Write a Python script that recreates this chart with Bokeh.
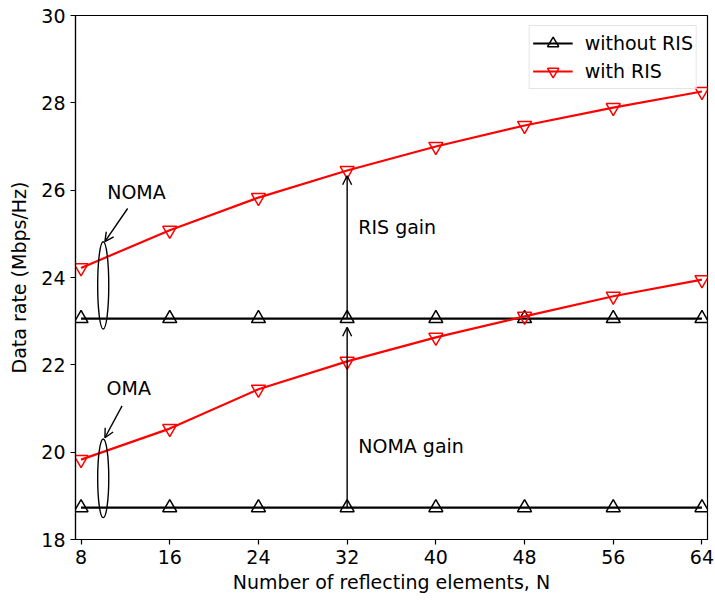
from bokeh.plotting import figure
from bokeh.models import (Arrow, OpenHead, Label, Legend, LegendItem, Range1d,
                          FixedTicker)
from bokeh.embed import file_html
from bokeh.resources import INLINE

# Number of reflecting elements
N = [8, 16, 24, 32, 40, 48, 56, 64]

# Data rate (Mbps/Hz)
noma_without_ris = [23.06, 23.06, 23.06, 23.06, 23.06, 23.06, 23.06, 23.06]
noma_with_ris = [24.22, 25.08, 25.83, 26.45, 27.00, 27.48, 27.89, 28.26]
oma_without_ris = [18.73, 18.73, 18.73, 18.73, 18.73, 18.73, 18.73, 18.73]
oma_with_ris = [19.83, 20.54, 21.44, 22.08, 22.63, 23.11, 23.57, 23.95]

x_ticks = [8, 16, 24, 32, 40, 48, 56, 64]
y_ticks = [18, 20, 22, 24, 26, 28, 30]

FONT = "DejaVu Sans"
FS = "19px"

p = figure(width=715, height=601, output_backend="svg", toolbar_location=None,
           x_range=Range1d(7.5, 64.5), y_range=Range1d(18, 30),
           min_border_left=75, min_border_right=8, min_border_top=15,
           min_border_bottom=62)
p.grid.visible = False
p.outline_line_color = "black"
p.outline_line_width = 1.2
p.background_fill_color = "white"
p.border_fill_color = "white"

p.xaxis.ticker = FixedTicker(ticks=x_ticks)
p.yaxis.ticker = FixedTicker(ticks=y_ticks)
for ax in (p.xaxis[0], p.yaxis[0]):
    ax.axis_line_color = "black"
    ax.axis_line_width = 1.2
    ax.major_tick_line_color = "black"
    ax.major_tick_line_width = 1.2
    ax.major_tick_in = 0
    ax.major_tick_out = 5
    ax.minor_tick_line_color = None
    ax.major_label_text_font = FONT
    ax.major_label_text_font_size = FS
    ax.major_label_text_color = "black"
    ax.axis_label_text_font = FONT
    ax.axis_label_text_font_size = FS
    ax.axis_label_text_font_style = "normal"
    ax.axis_label_text_color = "black"
p.xaxis.axis_label = "Number of reflecting elements, N"
p.yaxis.axis_label = "Data rate (Mbps/Hz)"
p.xaxis.major_label_standoff = 5
p.yaxis.major_label_standoff = 5
p.xaxis.axis_label_standoff = 4
p.yaxis.axis_label_standoff = 8

# Gain arrows at N = 32
p.add_layout(Arrow(end=OpenHead(size=9, line_width=1.4, line_color="black"),
                   x_start=32, y_start=23.06, x_end=32, y_end=26.33,
                   line_width=1.4, line_color="black"))
p.add_layout(Arrow(end=OpenHead(size=9, line_width=1.4, line_color="black"),
                   x_start=32, y_start=18.73, x_end=32, y_end=22.86,
                   line_width=1.4, line_color="black"))

# Curves
series = [
    (noma_without_ris, "black", "triangle"),
    (oma_without_ris, "black", "triangle"),
    (noma_with_ris, "red", "inverted_triangle"),
    (oma_with_ris, "red", "inverted_triangle"),
]
renderers = []
for ys, col, mk in series:
    ln = p.line(N, ys, line_color=col, line_width=2.2)
    sc = p.scatter(N, ys, marker=mk, size=14, line_color=col, line_width=1.5,
                   fill_color="white", fill_alpha=0.0)
    renderers.append((ln, sc))

# Group ellipses and pointers
p.ellipse(x=[10.0, 10.0], y=[23.82, 19.40], width=[1.0, 1.0],
          height=[2.0, 1.8], fill_color=None, line_color="black",
          line_width=1.4)
p.add_layout(Arrow(end=OpenHead(size=9, line_width=1.4, line_color="black"),
                   x_start=12.2, y_start=25.58, x_end=10.15, y_end=24.82,
                   line_width=1.4, line_color="black"))
p.add_layout(Arrow(end=OpenHead(size=9, line_width=1.4, line_color="black"),
                   x_start=11.7, y_start=21.06, x_end=10.15, y_end=20.33,
                   line_width=1.4, line_color="black"))

for txt, x, y, align in [("NOMA", 13.0, 25.95, "center"),
                         ("OMA", 12.3, 21.46, "center"),
                         ("RIS gain", 33.0, 25.15, "left"),
                         ("NOMA gain", 33.0, 20.15, "left")]:
    p.add_layout(Label(x=x, y=y, text=txt, text_align=align,
                       text_baseline="middle", text_font=FONT,
                       text_font_size=FS, text_color="black"))

legend = Legend(items=[
    LegendItem(label="without RIS", renderers=list(renderers[0])),
    LegendItem(label="with RIS", renderers=list(renderers[2])),
], location="top_right")
legend.label_text_font = FONT
legend.label_text_font_size = FS
legend.label_text_color = "black"
legend.border_line_color = "#cccccc"
legend.border_line_width = 1
legend.background_fill_alpha = 0.8
legend.glyph_width = 40
legend.glyph_height = 28
legend.label_height = 28
legend.label_standoff = 12
legend.spacing = 0
legend.padding = 3
legend.margin = 10
p.add_layout(legend)

open("out.html", "w").write(file_html(p, INLINE))
